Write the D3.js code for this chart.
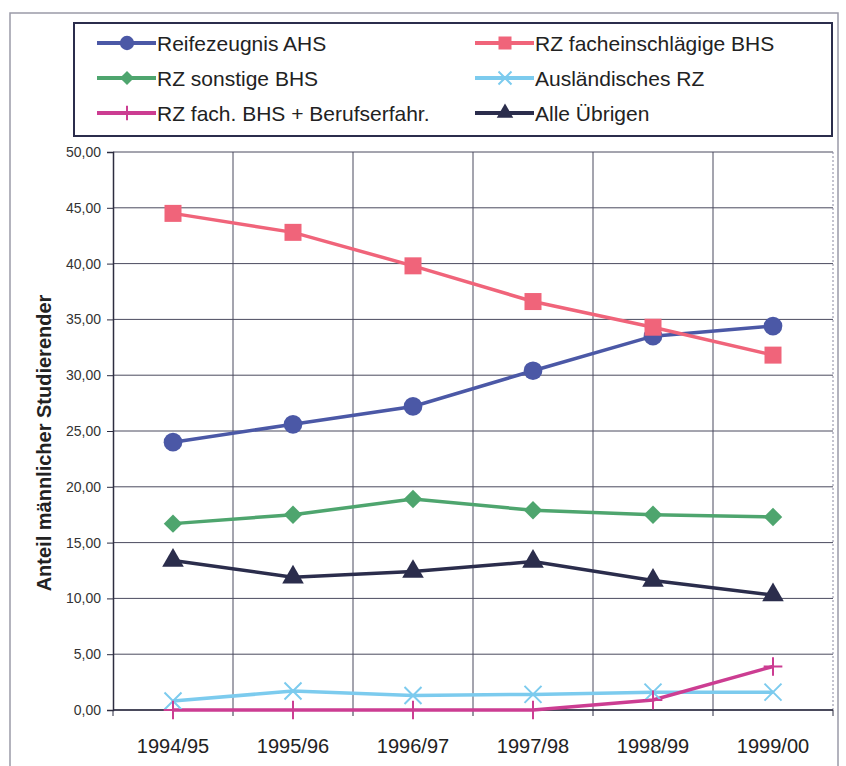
<!DOCTYPE html>
<html>
<head>
<meta charset="utf-8">
<script src="https://cdn.jsdelivr.net/npm/d3@7"></script>
<style>
  body { margin: 0; background: #fff; }
  svg { font-family: "Liberation Sans", Arial, sans-serif; }
</style>
</head>
<body>
<div id="chart"></div>
<script>
// Data
const years = ['1994/95', '1995/96', '1996/97', '1997/98', '1998/99', '1999/00'];
const reifezeugnisAHS = [24.0, 25.6, 27.2, 30.4, 33.5, 34.4];
const rzFachBHS = [44.5, 42.8, 39.8, 36.6, 34.3, 31.8];
const rzSonstigeBHS = [16.7, 17.5, 18.9, 17.9, 17.5, 17.3];
const auslaendischesRZ = [0.8, 1.7, 1.3, 1.4, 1.6, 1.6];
const rzBerufserfahr = [0, 0, 0, 0, 0.9, 3.9];
const alleUebrigen = [13.4, 11.9, 12.4, 13.3, 11.6, 10.3];
const yTicks = [0, 5, 10, 15, 20, 25, 30, 35, 40, 45, 50];

const series = [
  { name: 'Reifezeugnis AHS', values: reifezeugnisAHS, color: '#4b58a6', symbol: 'circle' },
  { name: 'RZ facheinschlägige BHS', values: rzFachBHS, color: '#f0647a', symbol: 'square' },
  { name: 'RZ sonstige BHS', values: rzSonstigeBHS, color: '#4ea56e', symbol: 'diamond' },
  { name: 'Ausländisches RZ', values: auslaendischesRZ, color: '#7ccbee', symbol: 'x' },
  { name: 'RZ fach. BHS + Berufserfahr.', values: rzBerufserfahr, color: '#cc3d92', symbol: 'plus' },
  { name: 'Alle Übrigen', values: alleUebrigen, color: '#2b2d4c', symbol: 'triangle' }
];

const W = 846, H = 766;
const margin = { top: 152, right: 13, bottom: 56, left: 113 };
const width = W - margin.left - margin.right;
const height = H - margin.top - margin.bottom;

const root = d3.select('#chart').append('svg')
  .attr('width', W)
  .attr('height', H);

// Outer frame
root.append('rect')
  .attr('x', 10).attr('y', 13)
  .attr('width', 828).attr('height', 770)
  .attr('fill', 'none')
  .attr('stroke', '#9a9aa8')
  .attr('stroke-width', 1.5);

const svg = root.append('g')
  .attr('transform', `translate(${margin.left},${margin.top})`);

// Scales
const x = d3.scaleBand().domain(years).range([0, width]);
const y = d3.scaleLinear().domain([0, 50]).range([height, 0]);

// Horizontal grid
svg.append('g')
  .selectAll('line')
  .data(yTicks)
  .enter()
  .append('line')
  .attr('x1', 0).attr('x2', width)
  .attr('y1', (d) => y(d)).attr('y2', (d) => y(d))
  .attr('stroke', '#4a4a5e')
  .attr('stroke-width', 1);

// Vertical grid (band boundaries)
svg.append('g')
  .selectAll('line')
  .data(years.slice(1))
  .enter()
  .append('line')
  .attr('x1', (d) => x(d)).attr('x2', (d) => x(d))
  .attr('y1', 0).attr('y2', height)
  .attr('stroke', '#4a4a5e')
  .attr('stroke-width', 1);

// right edge dotted
svg.append('line')
  .attr('x1', width).attr('x2', width)
  .attr('y1', 0).attr('y2', height)
  .attr('stroke', '#8888a0')
  .attr('stroke-dasharray', '2,2');

// X axis: ticks at band boundaries, labels at centers
const xAxis = svg.append('g').attr('transform', `translate(0,${height})`);
xAxis.append('line')
  .attr('x1', 0).attr('x2', width)
  .attr('stroke', '#2d2d40').attr('stroke-width', 1.5);
xAxis.selectAll('.tick')
  .data(years.concat(['end']))
  .enter()
  .append('line')
  .attr('x1', (d, i) => i * x.bandwidth())
  .attr('x2', (d, i) => i * x.bandwidth())
  .attr('y1', 0).attr('y2', 6)
  .attr('stroke', '#2d2d40');
xAxis.selectAll('text')
  .data(years)
  .enter()
  .append('text')
  .attr('x', (d) => x(d) + x.bandwidth() / 2)
  .attr('y', 43)
  .attr('text-anchor', 'middle')
  .style('font-size', '20px')
  .style('fill', '#222')
  .text((d) => d);

// Y axis
const yAxis = svg.append('g')
  .call(d3.axisLeft(y).tickValues(yTicks).tickSize(6).tickPadding(6)
    .tickFormat((d) => d3.format('.2f')(d).replace('.', ',')));
yAxis.select('.domain').attr('stroke', '#2d2d40').attr('stroke-width', 1.5);
yAxis.selectAll('.tick line').attr('stroke', '#2d2d40');
yAxis.selectAll('text')
  .style('font-size', '14px')
  .style('fill', '#333')
  .style('font-family', '"Liberation Sans", Arial, sans-serif');

// Y label
root.append('text')
  .attr('transform', 'translate(51,443) rotate(-90)')
  .attr('text-anchor', 'middle')
  .style('font-size', '20px')
  .style('font-weight', 'bold')
  .style('fill', '#222')
  .text('Anteil männlicher Studierender');

// Marker drawing
function drawMarker(g, s, size) {
  const c = s.color;
  if (s.symbol === 'circle') {
    g.append('circle').attr('r', size * 0.55).attr('fill', c);
  } else if (s.symbol === 'square') {
    g.append('rect').attr('x', -size / 2).attr('y', -size / 2)
      .attr('width', size).attr('height', size).attr('fill', c);
  } else if (s.symbol === 'diamond') {
    g.append('path').attr('d', d3.symbol(d3.symbolDiamond2, size * size * 0.75)()).attr('fill', c);
  } else if (s.symbol === 'triangle') {
    g.append('path').attr('d', d3.symbol(d3.symbolTriangle, size * size * 0.7)()).attr('fill', c);
  } else if (s.symbol === 'x') {
    const h = size * 0.5;
    g.append('path').attr('d', `M${-h},${-h}L${h},${h}M${-h},${h}L${h},${-h}`)
      .attr('stroke', c).attr('stroke-width', 2).attr('fill', 'none');
  } else if (s.symbol === 'plus') {
    const h = size * 0.55;
    g.append('path').attr('d', `M${-h},0L${h},0M0,${-h}L0,${h}`)
      .attr('stroke', c).attr('stroke-width', 2).attr('fill', 'none');
  }
}

// Lines
const line = d3.line()
  .x((d, i) => x(years[i]) + x.bandwidth() / 2)
  .y((d) => y(d));

series.forEach((s) => {
  svg.append('path')
    .datum(s.values)
    .attr('d', line)
    .attr('fill', 'none')
    .attr('stroke', s.color)
    .attr('stroke-width', 3.5);
});

series.forEach((s) => {
  s.values.forEach((v, i) => {
    const g = svg.append('g')
      .attr('transform', `translate(${x(years[i]) + x.bandwidth() / 2},${y(v)})`);
    drawMarker(g, s, 17);
  });
});

// Legend
const legend = root.append('g');
legend.append('rect')
  .attr('x', 74).attr('y', 23)
  .attr('width', 758).attr('height', 113)
  .attr('fill', '#fff')
  .attr('stroke', '#2b2d4c')
  .attr('stroke-width', 2);

const legendCols = [97, 475];
const legendRows = [43, 78, 113];
series.forEach((s, i) => {
  const lx = legendCols[i % 2];
  const ly = legendRows[Math.floor(i / 2)];
  const g = legend.append('g').attr('transform', `translate(${lx},${ly})`);
  g.append('line')
    .attr('x1', 0).attr('x2', 59)
    .attr('stroke', s.color).attr('stroke-width', 4);
  const m = g.append('g').attr('transform', 'translate(30,0)');
  drawMarker(m, s, 13);
  g.append('text')
    .attr('x', 60)
    .attr('y', 7.5)
    .style('font-size', '21px')
    .style('fill', '#222')
    .text(s.name);
});
</script>
</body>
</html>
